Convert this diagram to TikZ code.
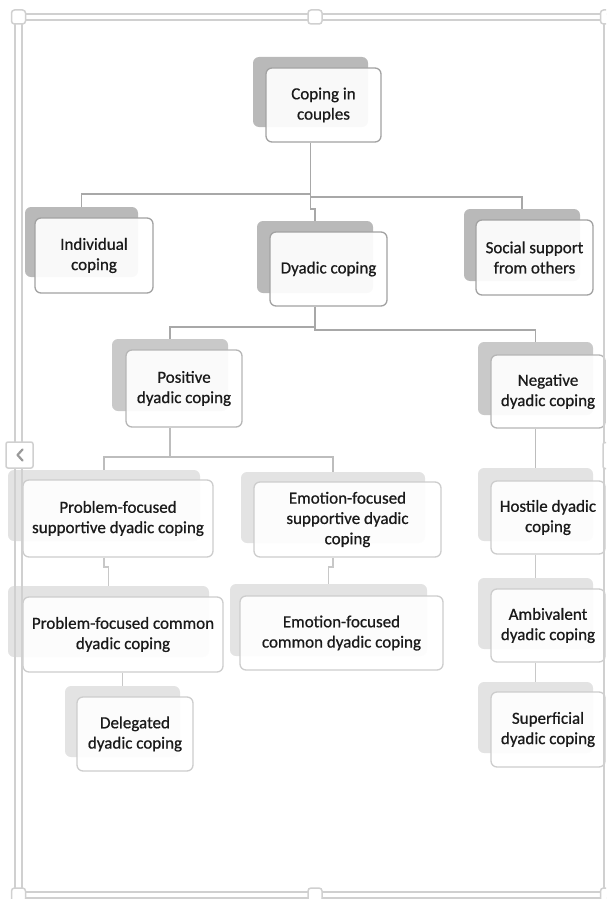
\documentclass[tikz,border=0pt]{standalone}
\usepackage{fontspec}
\setmainfont{Carlito}[BoldFont=Carlito, BoldFeatures={FakeBold=0.7}]
\definecolor{shA}{HTML}{B9B9B9}
\definecolor{shB}{HTML}{C9C9C9}
\definecolor{shC}{HTML}{E3E3E3}
\definecolor{bdA}{HTML}{A2A2A2}
\definecolor{bdB}{HTML}{B6B6B6}
\definecolor{bdC}{HTML}{CDCDCD}
\definecolor{cnA}{HTML}{A8A8A8}
\definecolor{cnB}{HTML}{BDBDBD}
\definecolor{cnC}{HTML}{C8C8C8}
\definecolor{frameg}{HTML}{D0D0D0}
\definecolor{txt}{HTML}{1A1A1A}
\begin{document}
\begin{tikzpicture}[x=1pt,y=-1pt,
  shad/.style={fill=#1, draw=none, rounded corners=6pt, inner sep=0pt},
  front/.style={fill=white, fill opacity=0.92, text opacity=1, draw=#1,
    line width=1.3pt, rounded corners=6pt, inner sep=0pt, align=center,
    text=txt, font=\fontsize{17}{20.3}\selectfont\bfseries},
  conn/.style={draw=#1, line width=1.3pt},
  handle/.style={fill=white, draw=frameg, line width=1.5pt, rounded corners=3pt,
    minimum width=14pt, minimum height=14pt, inner sep=0pt},
  sidebtn/.style={fill=white, draw=frameg, line width=1.5pt, rounded corners=2pt,
    minimum width=27pt, minimum height=26pt, inner sep=0pt},
]
\useasboundingbox (0,0) rectangle (606,899);
\clip (0,0) rectangle (606,899);

% shadows
\node[shad=shA, minimum width=115pt, minimum height=70pt] (rootS) at (310.5,92) {};
\node[shad=shA, minimum width=113pt, minimum height=70pt] (indS) at (81.5,242) {};
\node[shad=shA, minimum width=116pt, minimum height=72pt] (dyadS) at (315,257) {};
\node[shad=shA, minimum width=116pt, minimum height=72pt] (socS) at (522,245) {};
\node[shad=shB, minimum width=116pt, minimum height=72pt] (posS) at (170,375) {};
\node[shad=shB, minimum width=115pt, minimum height=73pt] (negS) at (535.5,378.5) {};
\node[shad=shC, minimum width=192pt, minimum height=71pt] (psS) at (104,505.5) {};
\node[shad=shC, minimum width=184pt, minimum height=71pt] (esS) at (333,507.5) {};
\node[shad=shC, minimum width=115pt, minimum height=73pt] (hosS) at (535.5,504.5) {};
\node[shad=shC, minimum width=201pt, minimum height=71pt] (pcS) at (108.5,621.5) {};
\node[shad=shC, minimum width=197pt, minimum height=72pt] (ecS) at (328.5,620) {};
\node[shad=shC, minimum width=115pt, minimum height=71pt] (ambS) at (535.5,613.5) {};
\node[shad=shC, minimum width=115pt, minimum height=71pt] (delS) at (122.5,721.5) {};
\node[shad=shC, minimum width=115pt, minimum height=71pt] (supS) at (535.5,717.5) {};

% front boxes
\node[front=bdA, minimum width=115pt, minimum height=74pt] (root) at (323.5,105) {Coping in\\couples};
\node[front=bdA, minimum width=118pt, minimum height=75pt] (ind) at (94,255.5) {Individual\\coping};
\node[front=bdA, minimum width=117pt, minimum height=74pt] (dyad) at (328.5,269) {Dyadic coping};
\node[front=bdA, minimum width=117pt, minimum height=75pt] (soc) at (534.5,257.5) {Social support\\from others};
\node[front=bdB, minimum width=116pt, minimum height=77pt] (pos) at (184,388.5) {Positive\\dyadic coping};
\node[front=bdB, minimum width=114pt, minimum height=73pt] (neg) at (548,391.5) {Negative\\dyadic coping};
\node[front=bdC, minimum width=190pt, minimum height=77pt] (ps) at (118,518.5) {Problem-focused\\supportive dyadic coping};
\node[front=bdC, minimum width=187pt, minimum height=75pt] (es) at (347.5,519.5) {Emotion-focused\\supportive dyadic\\coping};
\node[front=bdC, minimum width=114pt, minimum height=73pt] (hos) at (548,517.5) {Hostile dyadic\\coping};
\node[front=bdC, minimum width=200pt, minimum height=75pt] (pc) at (123,634.5) {Problem-focused common\\dyadic coping};
\node[front=bdC, minimum width=203pt, minimum height=74pt] (ec) at (341.5,633) {Emotion-focused\\common dyadic coping};
\node[front=bdC, minimum width=114pt, minimum height=73pt] (amb) at (548,625.5) {Ambivalent\\dyadic coping};
\node[front=bdC, minimum width=116pt, minimum height=74pt] (del) at (135,734) {Delegated\\dyadic coping};
\node[front=bdC, minimum width=114pt, minimum height=75pt] (sup) at (548,729.5) {Superficial\\dyadic coping};

% connectors
\coordinate (h1) at (0,194);
\coordinate (h1b) at (0,197);
\coordinate (j1) at (0,209);
\draw[conn=cnA] (root.south -| rootS.south) -- (rootS.south |- h1) -| (indS.north);
\draw[conn=cnA] (rootS.south |- h1) -- (rootS.south |- h1b) -| (socS.north);
\draw[conn=cnA] (rootS.south |- h1b) -- (rootS.south |- j1) -- (dyadS.north |- j1) -- (dyadS.north);

\coordinate (h2) at (0,327);
\coordinate (h2b) at (0,330);
\draw[conn=cnA] (dyad.south -| dyadS.south) -- (dyadS.south |- h2) -| (posS.north);
\draw[conn=cnA] (dyadS.south |- h2) -- (dyadS.south |- h2b) -| (negS.north);

\coordinate (h3) at (0,457);
\draw[conn=cnB] (pos.south -| posS.south) -- (posS.south |- h3) -| (psS.north);
\draw[conn=cnB] (posS.south |- h3) -| (esS.north);
\draw[conn=cnB] (neg.south -| negS.south) -- (hosS.north);

\coordinate (j4) at (0,567);
\draw[conn=cnC] (ps.south -| psS.south) -- (psS.south |- j4) -- (pcS.north |- j4) -- (pcS.north);
\draw[conn=cnC] (es.south -| esS.south) -- (esS.south |- j4) -- (ecS.north |- j4) -- (ecS.north);
\draw[conn=cnC] (hos.south -| hosS.south) -- (ambS.north);
\draw[conn=cnC] (amb.south -| ambS.south) -- (supS.north);
\draw[conn=cnC] (pc.south -| delS.north) -- (delS.north);

% selection frame
\draw[frameg, line width=1.5pt] (22,20) rectangle (604,892);
\draw[frameg, line width=1.5pt] (15,14) rectangle (611,898);
\node[handle] (hTL) at (18.5,17) {};
\node[handle] (hTM) at (315,17) {};
\node[handle] (hTR) at (607.5,17) {};
\node[handle] (hBL) at (18.5,895) {};
\node[handle] (hBM) at (315,895) {};
\node[handle] (hBR) at (607.5,895) {};
\node[sidebtn] (btnL) at (19.5,455) {};
\node[sidebtn] (btnR) at (616.5,455.5) {};
\draw[color=gray!80, line width=2.2pt, line cap=round, line join=round]
  ([shift={(3,-5.5)}]btnL.center) -- ([shift={(-2,0)}]btnL.center) -- ([shift={(3,5.5)}]btnL.center);
\end{tikzpicture}
\end{document}
